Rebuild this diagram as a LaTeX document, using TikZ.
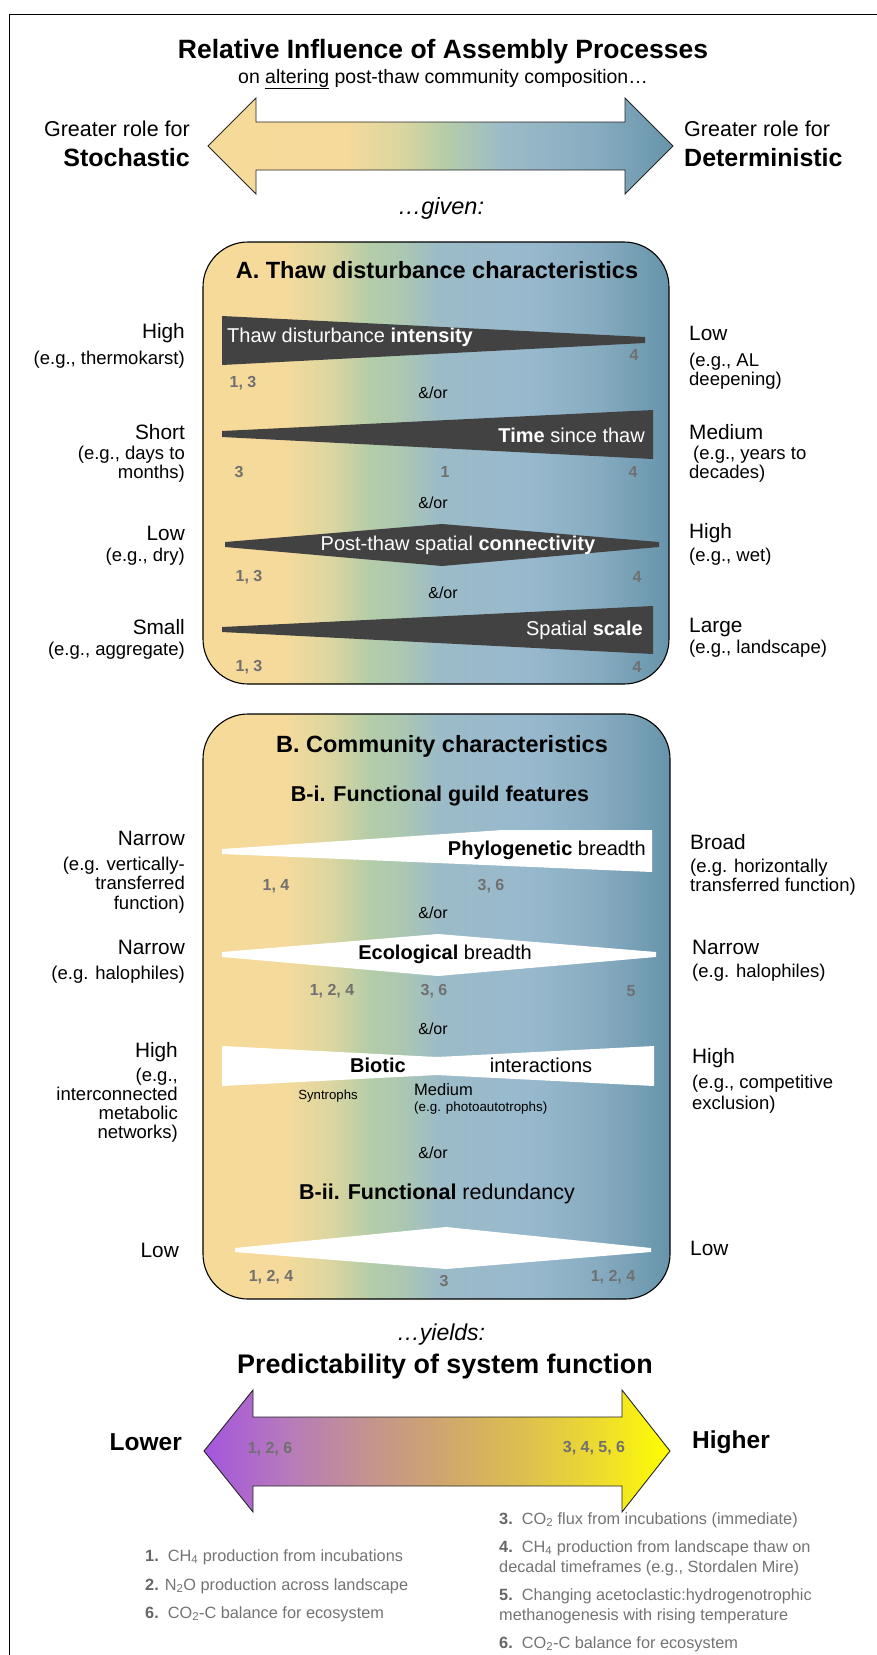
\documentclass[tikz,border=0pt]{standalone}
\usepackage{fontspec}
\setmainfont{Liberation Sans}
\definecolor{pa0}{HTML}{F6DA9A}
\definecolor{pa1}{HTML}{F5DA9B}
\definecolor{pa2}{HTML}{DCD6A0}
\definecolor{pa3}{HTML}{B4CCA8}
\definecolor{pa4}{HTML}{ADC8B0}
\definecolor{pa5}{HTML}{9CBBC8}
\definecolor{pa6}{HTML}{98B9CD}
\definecolor{pa7}{HTML}{87ABC0}
\definecolor{pa8}{HTML}{6694AA}
\definecolor{pb0}{HTML}{A455DE}
\definecolor{pb1}{HTML}{B77BBA}
\definecolor{pb2}{HTML}{C4948E}
\definecolor{pb3}{HTML}{CFA56F}
\definecolor{pb4}{HTML}{DCBE50}
\definecolor{pb5}{HTML}{EDDC2E}
\definecolor{pb6}{HTML}{FFFF00}
\definecolor{wedgegray}{HTML}{424242}
\definecolor{numgray}{HTML}{707070}
\definecolor{leggray}{HTML}{737373}
\definecolor{legnum}{HTML}{666666}
\pgfdeclarehorizontalshading{panelshade}{100bp}{color(0bp)=(pa0); color(25bp)=(pa0); color(33.8bp)=(pa1); color(38.6bp)=(pa2); color(42.9bp)=(pa3); color(46bp)=(pa4); color(50.4bp)=(pa5); color(60bp)=(pa6); color(67.5bp)=(pa7); color(75bp)=(pa8); color(100bp)=(pa8)}
\pgfdeclarehorizontalshading{topshade}{100bp}{color(0bp)=(pa0); color(25bp)=(pa0); color(39.8bp)=(pa1); color(45.5bp)=(pa2); color(50.7bp)=(pa3); color(56.7bp)=(pa5); color(67bp)=(pa7); color(75bp)=(pa8); color(100bp)=(pa8)}
\pgfdeclarehorizontalshading{botshade}{100bp}{color(0bp)=(pb0); color(25bp)=(pb0); color(34.2bp)=(pb1); color(42.8bp)=(pb2); color(50.3bp)=(pb3); color(58.9bp)=(pb4); color(67.5bp)=(pb5); color(75bp)=(pb6); color(100bp)=(pb6)}
\tikzset{
  lab/.style={inner sep=0pt, font=\fontsize{20.8}{24}\selectfont},
  sublab/.style={inner sep=0pt, font=\fontsize{18.5}{19.2}\selectfont},
  num/.style={inner sep=0pt, text=numgray, font=\bfseries\fontsize{16}{18}\selectfont},
  andor/.style={inner sep=0pt, font=\fontsize{16}{18}\selectfont},
  wedge/.style={fill=wedgegray, draw=none},
  whitewedge/.style={fill=white, draw=none},
  wtext/.style={inner sep=0pt, text=white, font=\fontsize{20}{24}\selectfont},
  btext/.style={inner sep=0pt, font=\fontsize{20}{24}\selectfont},
  ptitle/.style={inner sep=0pt, font=\bfseries\fontsize{23.5}{26}\selectfont},
  stitle/.style={inner sep=0pt, font=\fontsize{21.5}{25}\selectfont},
  panel/.style={draw=black, line width=1.1pt, rounded corners=45pt, shading=panelshade},
  bigarrow/.style={draw=black!85, line width=0.9pt},
  leg/.style={inner sep=0pt, text=leggray, font=\fontsize{16.3}{20}\selectfont, align=left},
}
\newcommand{\lnum}[1]{\textcolor{legnum}{\textbf{#1}}}
\begin{document}
\begin{tikzpicture}[x=1pt,y=-1pt]
\useasboundingbox (0,0) rectangle (877,1655);
% frame
\draw[line width=1pt] (9,1655) -- (9,14) -- (877,14);

% ---------- top ----------
\node[inner sep=0pt, font=\bfseries\fontsize{26.5}{30}\selectfont] (title) at (443,52) {Relative Influence of Assembly Processes};
\node[inner sep=0pt, font=\fontsize{19.5}{22}\selectfont] (subtitle) at (443,79) {on \underline{altering} post-thaw community composition…};
\draw[bigarrow, shading=topshade] (208,146) -- (256,98) -- (256,122) -- (625,122) -- (625,98) -- (673,146) -- (625,194) -- (625,170) -- (256,170) -- (256,194) -- cycle;
\node[inner sep=0pt, anchor=east, font=\fontsize{21.5}{24}\selectfont] (grl) at (190,129) {Greater role for};
\node[inner sep=0pt, anchor=east, font=\bfseries\fontsize{25}{28}\selectfont] (stoch) at (190,158) {Stochastic};
\node[inner sep=0pt, anchor=west, font=\fontsize{21.5}{24}\selectfont] (grr) at (684,129) {Greater role for};
\node[inner sep=0pt, anchor=west, font=\bfseries\fontsize{25}{28}\selectfont] (determ) at (684,158) {Deterministic};
\node[inner sep=0pt, font=\itshape\fontsize{23.5}{26}\selectfont] (given) at (441,208) {…given:};

% ---------- panel A ----------
\draw[panel] (203,242) rectangle (669,684);
\node[ptitle] (atitle) at (437,270) {A. Thaw disturbance characteristics};
\fill[wedge] (222,316) -- (645,337) -- (645,343) -- (222,365) -- cycle;
\node[wtext, anchor=west] (w1) at (227,337) {Thaw disturbance \textbf{intensity}};
\node[num] (w1r) at (634,355) {4};
\node[num] (w1l) at (243,383) {1, 3};
\node[andor] (ao1) at (433,393) {\&/or};
\fill[wedge] (222,431) -- (653,410) -- (653,459) -- (222,437) -- cycle;
\node[wtext, anchor=east] (w2) at (645,435) {\textbf{Time} since thaw};
\node[num] (w2l) at (239,472) {3};
\node[num] (w2m) at (445,472) {1};
\node[num] (w2r) at (633,472) {4};
\node[andor] (ao2) at (433,503) {\&/or};
\fill[wedge] (225,542) -- (442,524) -- (659,542) -- (659,547) -- (442,566) -- (225,547) -- cycle;
\node[wtext] (w3) at (458,545) {Post-thaw spatial \textbf{connectivity}};
\node[num] (w3l) at (249,577) {1, 3};
\node[num] (w3r) at (637,577) {4};
\node[andor] (ao3) at (443,593) {\&/or};
\fill[wedge] (222,627) -- (653,606) -- (653,654) -- (222,632) -- cycle;
\node[wtext, anchor=east] (w4) at (643,630) {Spatial \textbf{scale}};
\node[num] (w4l) at (249,667) {1, 3};
\node[num] (w4r) at (637,667) {4};

% side labels A
\node[lab, anchor=east] (la1) at (185,333) {High};
\node[sublab, anchor=east, align=right] (la1s) at (185,360) {(e.g., thermokarst)};
\node[lab, anchor=east] (la2) at (185,432) {Short\hspace{6pt}};
\node[sublab, anchor=east, align=right] (la2s) at (185,464) {(e.g., days to\\months)};
\node[lab, anchor=east] (la3) at (185,533) {Low};
\node[sublab, anchor=east, align=right] (la3s) at (185,557) {(e.g., dry)};
\node[lab, anchor=east] (la4) at (185,627) {Small};
\node[sublab, anchor=east, align=right] (la4s) at (185,651) {(e.g., aggregate)};
\node[lab, anchor=west] (ra1) at (689,333) {Low};
\node[sublab, anchor=west, align=left] (ra1s) at (689,371) {(e.g., AL\\deepening)};
\node[lab, anchor=west] (ra2) at (689,432) {Medium};
\node[sublab, anchor=west, align=left] (ra2s) at (689,464.5) {\hspace{4pt}(e.g., years to\\decades)};
\node[lab, anchor=west] (ra3) at (689,533) {High};
\node[sublab, anchor=west, align=left] (ra3s) at (689,557) {(e.g., wet)};
\node[lab, anchor=west] (ra4) at (689,627) {Large};
\node[sublab, anchor=west, align=left] (ra4s) at (689,649) {(e.g., landscape)};

% ---------- panel B ----------
\draw[panel] (203,714) rectangle (670,1299);
\node[ptitle] (btitle) at (442,746) {B. Community characteristics};
\node[stitle] (bi) at (440,796) {\textbf{B-i. Functional guild features}};
\fill[whitewedge] (222,849) -- (503,830) -- (652,830) -- (652,872) -- (222,854) -- cycle;
\node[btext, anchor=east] (phy) at (646,850) {\textbf{Phylogenetic} breadth};
\node[num] (phyl) at (276,886) {1, 4};
\node[num] (phym) at (491,886) {3, 6};
\node[andor] (ao4) at (433,913) {\&/or};
\fill[whitewedge] (222,952) -- (438,934) -- (656,952) -- (656,957) -- (438,976) -- (222,957) -- cycle;
\node[btext] (eco) at (445,954) {\textbf{Ecological} breadth};
\node[num] (ecol) at (332,991) {1, 2, 4};
\node[num] (ecom) at (434,991) {3, 6};
\node[num] (ecor) at (631,991) {5};
\node[andor] (ao5) at (433,1029) {\&/or};
\fill[whitewedge] (222,1046) -- (437,1057) -- (654,1046) -- (654,1086) -- (437,1075) -- (222,1086) -- cycle;
\node[btext] (bio1) at (378,1065) {\textbf{Biotic}};
\node[btext] (bio2) at (541,1065) {interactions};
\node[inner sep=0pt, font=\fontsize{13.2}{15}\selectfont] (syn) at (328,1096) {Syntrophs};
\node[inner sep=0pt, anchor=west, font=\fontsize{16.5}{19}\selectfont] (med) at (414,1090) {Medium};
\node[inner sep=0pt, anchor=west, font=\fontsize{13.4}{15}\selectfont] (meds) at (414,1108) {(e.g. photoautotrophs)};
\node[andor] (ao6) at (433,1153) {\&/or};
\node[stitle] (bii) at (437,1194) {\textbf{B-ii. Functional} redundancy};
\fill[whitewedge] (235,1248) -- (446,1227) -- (651,1248) -- (651,1252) -- (446,1269) -- (235,1252) -- cycle;
\node[num] (redl) at (271,1277) {1, 2, 4};
\node[num] (redm) at (444,1281) {3};
\node[num] (redr) at (613,1277) {1, 2, 4};

% side labels B
\node[lab, anchor=east] (lb1) at (185,838) {Narrow};
\node[sublab, anchor=east, align=right] (lb1s) at (185,885) {(e.g. vertically-\\transferred\\function)};
\node[lab, anchor=east] (lb2) at (185,947) {Narrow};
\node[sublab, anchor=east, align=right] (lb2s) at (185,975) {(e.g. halophiles)};
\node[lab, anchor=east] (lb3) at (178,1052) {High};
\node[sublab, anchor=east, align=right] (lb3s) at (178,1105) {(e.g.,\\interconnected\\metabolic\\networks)};
\node[lab, anchor=east] (lb4) at (179,1250) {Low};
\node[lab, anchor=west] (rb1) at (690,842) {Broad};
\node[sublab, anchor=west, align=left] (rb1s) at (690,877) {(e.g. horizontally\\transferred function)};
\node[lab, anchor=west] (rb2) at (692,947) {Narrow};
\node[sublab, anchor=west, align=left] (rb2s) at (692,973) {(e.g. halophiles)};
\node[lab, anchor=west] (rb3) at (692,1058) {High};
\node[sublab, anchor=west, align=left, font=\fontsize{18.5}{21.5}\selectfont] (rb3s) at (692,1094) {(e.g., competitive\\exclusion)};
\node[lab, anchor=west] (rb4) at (690,1248) {Low};

% ---------- bottom ----------
\node[inner sep=0pt, font=\itshape\fontsize{23}{26}\selectfont] (yields) at (441,1335) {…yields:};
\node[inner sep=0pt, font=\bfseries\fontsize{26.9}{30}\selectfont] (pred) at (445,1367) {Predictability of system function};
\draw[bigarrow, shading=botshade] (204,1451) -- (253,1390) -- (253,1417) -- (622,1417) -- (622,1390) -- (670,1451) -- (622,1512) -- (622,1486) -- (253,1486) -- (253,1512) -- cycle;
\node[inner sep=0pt, anchor=east, font=\bfseries\fontsize{24.5}{28}\selectfont] (lower) at (182,1442) {Lower};
\node[inner sep=0pt, anchor=west, font=\bfseries\fontsize{24.5}{28}\selectfont] (higher) at (692,1442) {Higher};
\node[num] (pl) at (270,1449) {1, 2, 6};
\node[num] (pr) at (594,1448) {3, 4, 5, 6};

% legend
\node[leg, anchor=west] (l1) at (145,1557) {\lnum{1.}\ \ CH\textsubscript{4} production from incubations};
\node[leg, anchor=west] (l2) at (145,1586) {\lnum{2.} N\textsubscript{2}O production across landscape};
\node[leg, anchor=west] (l6) at (145,1614) {\lnum{6.}\ \ CO\textsubscript{2}-C balance for ecosystem};
\node[leg, anchor=west] (r3) at (499,1520) {\lnum{3.}\ \ CO\textsubscript{2} flux from incubations (immediate)};
\node[leg, anchor=west] (r4) at (499,1558) {\lnum{4.}\ \ CH\textsubscript{4} production from landscape thaw on\\decadal timeframes (e.g., Stordalen Mire)};
\node[leg, anchor=west] (r5) at (499,1606.5) {\lnum{5.}\ \ Changing acetoclastic:hydrogenotrophic\\methanogenesis with rising temperature};
\node[leg, anchor=west] (r6) at (499,1644) {\lnum{6.}\ \ CO\textsubscript{2}-C balance for ecosystem};
\end{tikzpicture}
\end{document}
